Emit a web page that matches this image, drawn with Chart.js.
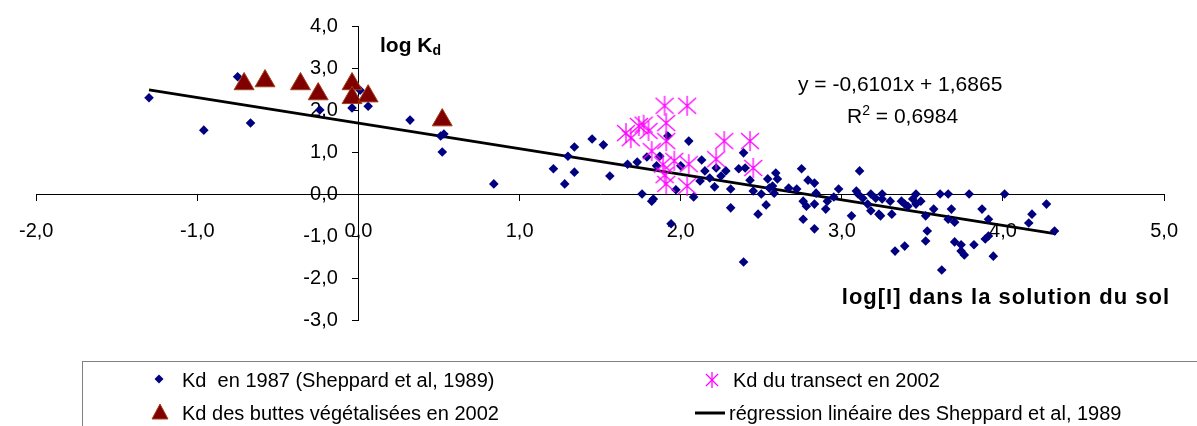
<!DOCTYPE html>
<html>
<head>
<meta charset="utf-8">
<script src="https://cdn.jsdelivr.net/npm/chart.js@4.4.1/dist/chart.umd.min.js"></script>
<style>
  body { margin: 0; background: #fff; }
  #wrap { position: relative; width: 1197px; height: 426px; overflow: hidden; font-family: "Liberation Sans", Arial, sans-serif; color: #000; }
  #chart { position: absolute; left: 0; top: 0; }
  .txt { position: absolute; white-space: nowrap; transform: translateY(-50%); line-height: 1; }
  .bold { font-weight: bold; }
  #legend { position: absolute; left: 82px; top: 361px; width: 1200px; height: 100px; border: 1px solid #808080; box-sizing: border-box; }
  .leg { position: absolute; white-space: nowrap; font-size: 20px; line-height: 1; transform: translateY(-50%); }
  .mk { position: absolute; }
</style>
</head>
<body>
<div id="wrap">
  <canvas id="chart" width="1197" height="350"></canvas>

  <div class="txt bold" style="left:380px; top:45px; font-size:21px;">log K<sub style="font-size:14px; vertical-align:-3px;">d</sub></div>
  <div class="txt" style="left:798px; top:83px; font-size:21px;">y = -0,6101x + 1,6865</div>
  <div class="txt" style="left:847px; top:114px; font-size:21px;">R<sup style="font-size:14px; vertical-align:8px;">2</sup> = 0,6984</div>
  <div class="txt bold" style="right:27px; top:297px; font-size:22px; letter-spacing:1px;">log[I] dans la solution du sol</div>

  <div id="legend"></div>
  <svg class="mk" style="left:0; top:0;" width="1197" height="426">
    <polygon points="159,374.5 163.5,379 159,383.5 154.5,379" fill="#000080"/>
    <polygon points="160,404 168,419 152,419" fill="#800000" stroke="#a0401a" stroke-width="1"/>
    <g stroke="#ff00ff" stroke-width="1.3">
      <line x1="712" y1="372" x2="712" y2="388"/>
      <line x1="706" y1="374" x2="718" y2="386"/>
      <line x1="718" y1="374" x2="706" y2="386"/>
    </g>
    <line x1="695" y1="413" x2="725" y2="413" stroke="#000" stroke-width="3"/>
  </svg>
  <div class="leg" style="left:182px; top:380px;">Kd&nbsp; en 1987 (Sheppard et al, 1989)</div>
  <div class="leg" style="left:182px; top:413px;">Kd des buttes végétalisées en 2002</div>
  <div class="leg" style="left:733px; top:380px;">Kd du transect en 2002</div>
  <div class="leg" style="left:729px; top:413px;">régression linéaire des Sheppard et al, 1989</div>
</div>

<script>
// Kd en 1987 (Sheppard et al, 1989)
const sheppardX = [-1.30, -0.96, -0.75, -0.67, -0.24, -0.04, 0.01, 0.06, 0.32, 0.51, 0.53, 0.52,
  0.84, 1.21, 1.28, 1.30, 1.34, 1.34, 1.45, 1.52, 1.56, 1.67, 1.73, 1.76, 1.79, 1.82, 1.83, 1.87, 1.85, 1.92,
  1.94, 1.97, 2.00, 2.05, 2.08, 2.13, 2.12, 2.15, 2.18, 2.21, 2.22, 2.25, 2.28, 2.31, 2.31, 2.36, 2.39, 2.40,
  2.39, 2.43, 2.45, 2.48, 2.50, 2.53, 2.54, 2.55, 2.57, 2.59, 2.60, 2.58, 2.67, 2.72, 2.75, 2.76, 2.76, 2.78,
  2.79, 2.83, 2.83, 2.84, 2.83, 2.90, 2.91, 2.95, 2.98, 3.06, 3.11, 3.09,
  3.10, 3.13, 3.16, 3.18, 3.18, 3.21, 3.23, 3.24, 3.25, 3.25, 3.30, 3.31, 3.33, 3.37, 3.39, 3.39, 3.41, 3.44,
  3.46, 3.46, 3.49, 3.52, 3.53, 3.52, 3.57, 3.61, 3.62, 3.66, 3.66, 3.68, 3.70, 3.70, 3.74, 3.74, 3.76, 3.79,
  3.82, 3.87, 3.89, 3.91, 3.91, 3.94, 4.01, 4.16, 4.18, 4.27, 4.32];
const sheppardY = [2.29, 1.52, 2.79, 1.69, 2.00, 2.05, 2.47, 2.09, 1.76, 1.38, 1.43, 1.00,
  0.24, 0.60, 0.24, 0.90, 1.12, 0.52, 1.31, 1.17, 0.43, 0.71, 0.76, 0.00, 0.88, -0.17, -0.12, 0.90, 0.67, 1.38,
  -0.71, 0.10, 0.67, 1.26, -0.07, 0.81, 0.31, 0.55, 0.38, 0.17, 0.62, 0.43, 0.55, -0.33, 0.12, 0.60, 0.98, 0.62,
  -1.62, 0.33, 0.07, -0.48, 0.00, -0.26, 0.36, 0.14, 0.19, 0.50, 0.36, 0.02, 0.14, 0.12, 0.60, -0.17, -0.60, -0.29,
  0.33, 0.26, -0.83, 0.02, -0.24, -0.36, -0.17, -0.07, 0.12, -0.52, 0.55, 0.07,
  0.00, -0.10, -0.24, 0.00, -0.40, -0.10, -0.48, -0.52, 0.00, -0.12, -0.17, -0.48, -1.36, -0.17, -1.24, -0.24, -0.29, -0.12,
  0.00, -0.24, -0.17, -0.52, -0.88, -1.12, -0.36, 0.00, -1.81, 0.00, -0.60, -0.36, -0.67, -1.14, -1.21, -1.36, -1.45, 0.00,
  -1.21, -0.36, -1.07, -0.60, -1.00, -1.48, 0.00, -0.69, -0.48, -0.24, -0.88];

// Kd du transect en 2002
const transectX = [1.66, 1.69, 1.74, 1.77, 1.80, 1.90, 2.04, 1.91, 1.91, 1.82, 1.89, 1.96, 2.05, 1.90, 1.91, 2.04, 2.27, 2.43, 2.22, 2.45];
const transectY = [1.45, 1.33, 1.62, 1.65, 1.50, 2.10, 2.10, 1.69, 1.26, 1.02, 0.70, 0.79, 0.71, 0.45, 0.24, 0.19, 1.26, 1.26, 0.83, 0.62];

// Kd des buttes végétalisées en 2002
const buttesX = [-0.71, -0.58, -0.36, -0.25, -0.04, -0.04, 0.06, 0.52];
const buttesY = [2.62, 2.69, 2.62, 2.38, 2.62, 2.29, 2.33, 1.76];

// régression linéaire (extrémités)
const regX = [-1.30, 4.33];
const regY = [2.48, -0.95];

const xTicks = [-2, -1, 0, 1, 2, 3, 4, 5];
const yTicks = [-3, -2, -1, 0, 1, 2, 3, 4];

function toPoints(xs, ys) {
  return xs.map((x, i) => ({ x: x, y: ys[i] }));
}

// marqueur étoile (X + trait vertical), comme Excel
const star = document.createElement('canvas');
star.width = 22; star.height = 22;
(function () {
  const c = star.getContext('2d');
  c.strokeStyle = '#ff00ff';
  c.lineWidth = 1.3;
  c.beginPath();
  c.moveTo(11, 1); c.lineTo(11, 21);
  c.moveTo(2, 3); c.lineTo(20, 19);
  c.moveTo(20, 3); c.lineTo(2, 19);
  c.stroke();
})();

const fmt = (v) => v.toFixed(1).replace('.', ',');
// l'axe centré colle les étiquettes à l'axe : on les décale avec des espaces
const fmtY = (v) => fmt(v) + '   \u2009';
const tickFont = { family: '"Liberation Sans", Arial, sans-serif', size: 20 };

new Chart(document.getElementById('chart'), {
  type: 'scatter',
  data: {
    datasets: [
      {
        label: 'régression linéaire des Sheppard et al, 1989',
        data: toPoints(regX, regY),
        showLine: true,
        borderColor: '#000',
        borderWidth: 2.8,
        pointRadius: 0,
        order: 3
      },
      {
        label: 'Kd  en 1987 (Sheppard et al, 1989)',
        data: toPoints(sheppardX, sheppardY),
        pointStyle: 'rectRot',
        pointRadius: 4.8,
        backgroundColor: '#000080',
        borderColor: '#000080',
        borderWidth: 0,
        order: 2
      },
      {
        label: 'Kd du transect en 2002',
        data: toPoints(transectX, transectY),
        pointStyle: star,
        order: 1
      },
      {
        label: 'Kd des buttes végétalisées en 2002',
        data: toPoints(buttesX, buttesY),
        pointStyle: 'triangle',
        pointRadius: 11.5,
        backgroundColor: '#800000',
        borderColor: '#a0401a',
        borderWidth: 1,
        order: 0
      }
    ]
  },
  options: {
    responsive: false,
    animation: false,
    devicePixelRatio: 1,
    layout: { padding: { left: 29, right: 18, top: 24, bottom: 30 } },
    plugins: { legend: { display: false }, tooltip: { enabled: false } },
    scales: {
      x: {
        type: 'linear',
        min: -2, max: 5,
        position: { y: 0 },
        afterBuildTicks: (s) => { s.ticks = xTicks.map(v => ({ value: v })); },
        afterFit: (s) => { s.height = 0; },
        grid: { drawOnChartArea: false, tickLength: 6, tickColor: '#000' },
        border: { color: '#000', width: 1 },
        ticks: { autoSkip: false, maxRotation: 0, padding: 19, color: '#000', font: tickFont, callback: fmt }
      },
      y: {
        type: 'linear',
        min: -3, max: 4,
        position: { x: 0 },
        afterBuildTicks: (s) => { s.ticks = yTicks.map(v => ({ value: v })); },
        afterFit: (s) => { s.width = 0; },
        grid: { drawOnChartArea: false, tickLength: 6, tickColor: '#000' },
        border: { color: '#000', width: 1 },
        ticks: { autoSkip: false, padding: 14, color: '#000', font: tickFont, callback: fmtY }
      }
    }
  }
});
</script>
</body>
</html>
